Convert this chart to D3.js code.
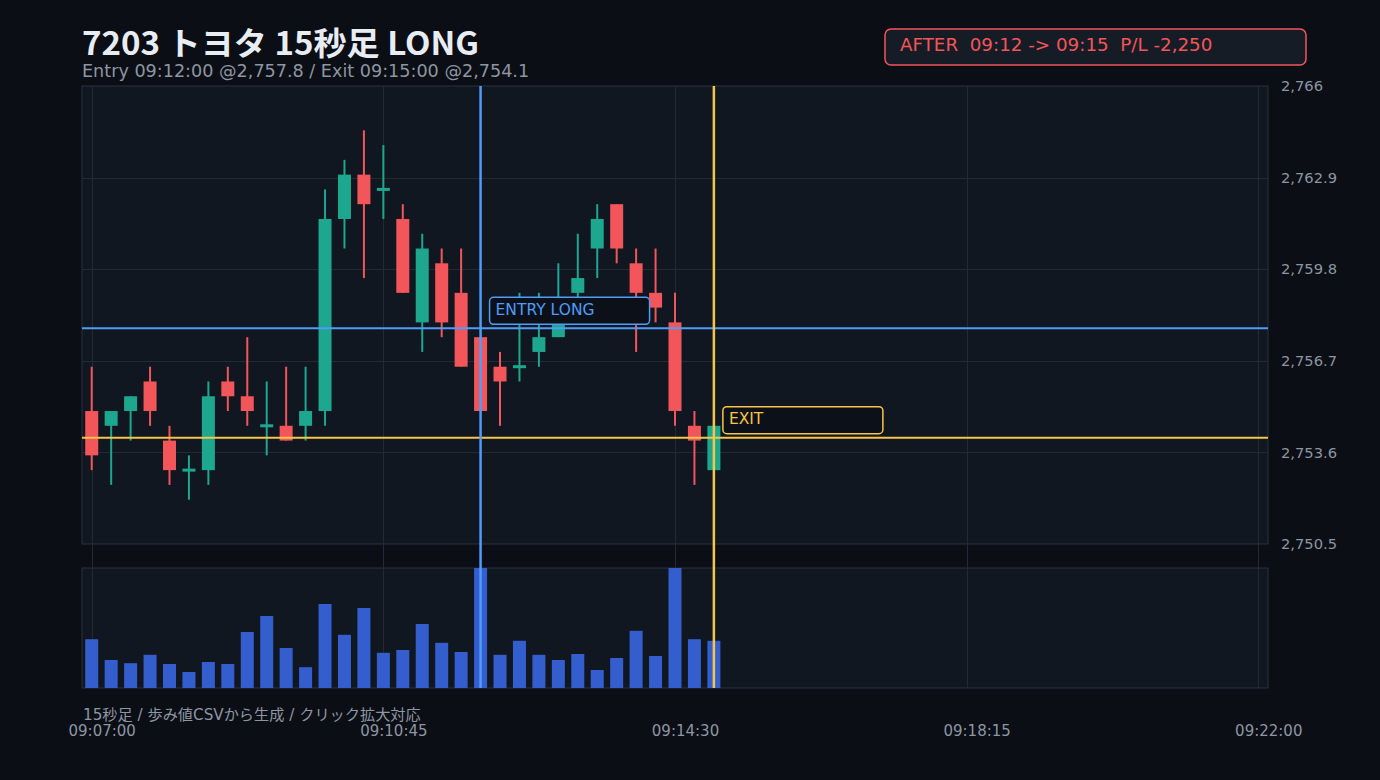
<!DOCTYPE html>
<html>
<head>
<meta charset="utf-8">
<script src="https://cdn.jsdelivr.net/npm/d3@7"></script>
<style>
  html, body { margin: 0; padding: 0; background: #0b0e14; }
  svg { display: block; font-family: "DejaVu Sans", "Noto Sans CJK JP", sans-serif; }
</style>
</head>
<body>
<div id="chart"></div>
<script>
// 15-second candles, 7203 Toyota
const times = ["09:07:00","09:07:15","09:07:30","09:07:45","09:08:00","09:08:15","09:08:30","09:08:45",
  "09:09:00","09:09:15","09:09:30","09:09:45","09:10:00","09:10:15","09:10:30","09:10:45",
  "09:11:00","09:11:15","09:11:30","09:11:45","09:12:00","09:12:15","09:12:30","09:12:45",
  "09:13:00","09:13:15","09:13:30","09:13:45","09:14:00","09:14:15","09:14:30","09:14:45","09:15:00"];
const opens  = [2755.0,2754.5,2755.0,2756.0,2754.0,2753.0,2753.0,2756.0,2755.5,2754.5,2754.5,2754.5,2755.0,2761.5,2763.0,2762.5,
  2761.5,2758.0,2760.0,2759.0,2757.5,2756.5,2756.5,2757.0,2757.5,2759.0,2760.5,2762.0,2760.0,2759.0,2758.0,2754.5,2753.0];
const highs  = [2756.5,2755.0,2755.5,2756.5,2754.5,2753.5,2756.0,2756.5,2757.5,2756.0,2756.5,2756.5,2762.5,2763.5,2764.5,2764.0,
  2762.0,2761.0,2760.5,2760.5,2757.5,2757.0,2759.0,2759.0,2760.0,2761.0,2762.0,2762.0,2760.5,2760.5,2759.0,2755.0,2754.5];
const lows   = [2753.0,2752.5,2754.0,2754.5,2752.5,2752.0,2752.5,2755.0,2754.5,2753.5,2754.0,2754.0,2754.5,2760.5,2759.5,2761.5,
  2759.0,2757.0,2757.5,2756.5,2755.0,2754.5,2756.0,2756.5,2757.5,2758.5,2759.5,2760.0,2757.0,2758.0,2754.5,2752.5,2753.0];
const closes = [2753.5,2755.0,2755.5,2755.0,2753.0,2753.0,2755.5,2755.5,2755.0,2754.5,2754.0,2755.0,2761.5,2763.0,2762.0,2762.5,
  2759.0,2760.5,2758.0,2756.5,2755.0,2756.0,2756.5,2757.5,2758.0,2759.5,2761.5,2760.5,2759.0,2758.5,2755.0,2754.0,2754.5];
const volumes = [12200,7000,6200,8300,6000,4000,6500,6000,14000,18000,10000,5200,21000,13300,20000,8800,
  9500,16000,11300,9000,30000,8300,11800,8300,7000,8500,4500,7500,14300,8000,30000,12200,11800];

const priceTicks = [2750.5, 2753.6, 2756.7, 2759.8, 2762.9, 2766];
const timeTicks = ["09:07:00","09:10:45","09:14:30","09:18:15","09:22:00"];
const timeStart = "09:06:52.5", timeEnd = "09:22:07.5";

const entry = {time: "09:12:00", price: 2757.8};
const exit  = {time: "09:15:00", price: 2754.1};

const titleText = "7203 トヨタ 15秒足 LONG";
const subText = "Entry 09:12:00 @2,757.8 / Exit 09:15:00 @2,754.1";
const resultText = "AFTER  09:12 -> 09:15  P/L -2,250";
const noteText = "15秒足 / 歩み値CSVから生成 / クリック拡大対応";

// colours
const UP = "#1da78f", DOWN = "#f2555a", VOL = "#345ece", BLUE = "#4f9cf9", YELLOW = "#f7c548";
const GRID = "#232a35", BORDER = "#2b3340", PANEL = "#111720", MUTED = "#8d96a3";

const width = 1380, height = 780;
const px = {left: 82, right: 1268, top: 86, bottom: 544};
const vp = {top: 568, bottom: 688};

const parseT = d3.timeParse("%H:%M:%S");
const parseTms = s => {
  const [h, m, sec] = s.split(":");
  return new Date(1900, 0, 1, +h, +m, Math.floor(+sec), Math.round((+sec % 1) * 1000));
};

const data = times.map((t, i) => ({
  t: parseT(t), o: opens[i], h: highs[i], l: lows[i], c: closes[i], v: volumes[i]
}));

const svg = d3.select("#chart").append("svg")
  .attr("width", width).attr("height", height);

svg.append("rect").attr("width", width).attr("height", height).attr("fill", "#0b0e14");

const x = d3.scaleTime()
  .domain([parseTms(timeStart), parseTms(timeEnd)])
  .range([px.left, px.right]);
const y = d3.scaleLinear()
  .domain([priceTicks[0], priceTicks[priceTicks.length - 1]])
  .range([px.bottom, px.top]);
const yv = d3.scaleLinear()
  .domain([0, d3.max(volumes)])
  .range([vp.bottom, vp.top]);

const bodyW = 13;

// panels
svg.append("rect").attr("x", px.left).attr("y", px.top)
  .attr("width", px.right - px.left).attr("height", px.bottom - px.top)
  .attr("fill", PANEL).attr("stroke", BORDER).attr("stroke-width", 1);
svg.append("rect").attr("x", px.left).attr("y", vp.top)
  .attr("width", px.right - px.left).attr("height", vp.bottom - vp.top)
  .attr("fill", PANEL).attr("stroke", BORDER).attr("stroke-width", 1);

// horizontal grid
svg.append("g").selectAll("line")
  .data(priceTicks.slice(1, -1))
  .join("line")
  .attr("x1", px.left).attr("x2", px.right)
  .attr("y1", d => Math.round(y(d)) + 0.5).attr("y2", d => Math.round(y(d)) + 0.5)
  .attr("stroke", GRID);

// vertical grid
svg.append("g").selectAll("line")
  .data(timeTicks.map(parseT))
  .join("line")
  .attr("x1", d => Math.round(x(d)) + 0.5).attr("x2", d => Math.round(x(d)) + 0.5)
  .attr("y1", px.top).attr("y2", vp.bottom)
  .attr("stroke", GRID);

// volume bars
svg.append("g").selectAll("rect")
  .data(data)
  .join("rect")
  .attr("x", d => x(d.t) - bodyW / 2)
  .attr("y", d => yv(d.v))
  .attr("width", bodyW)
  .attr("height", d => vp.bottom - yv(d.v))
  .attr("fill", VOL);

// candles
const candle = svg.append("g").selectAll("g")
  .data(data)
  .join("g")
  .attr("fill", d => d.c >= d.o ? UP : DOWN)
  .attr("stroke", d => d.c >= d.o ? UP : DOWN);

candle.append("line")
  .attr("x1", d => x(d.t)).attr("x2", d => x(d.t))
  .attr("y1", d => y(d.h)).attr("y2", d => y(d.l))
  .attr("stroke-width", 2);

candle.append("rect")
  .attr("stroke", "none")
  .attr("x", d => x(d.t) - bodyW / 2)
  .attr("width", bodyW)
  .attr("y", d => {
    const h = Math.abs(y(d.o) - y(d.c));
    return h < 3 ? y(d.o) - 1.5 : y(Math.max(d.o, d.c));
  })
  .attr("height", d => Math.max(3, Math.abs(y(d.o) - y(d.c))));

// entry / exit lines
const ex = x(parseT(entry.time)), xx = x(parseT(exit.time));
svg.append("line").attr("x1", px.left).attr("x2", px.right)
  .attr("y1", y(entry.price)).attr("y2", y(entry.price))
  .attr("stroke", BLUE).attr("stroke-width", 2);
svg.append("line").attr("x1", px.left).attr("x2", px.right)
  .attr("y1", y(exit.price)).attr("y2", y(exit.price))
  .attr("stroke", YELLOW).attr("stroke-width", 2);
svg.append("line").attr("x1", ex).attr("x2", ex)
  .attr("y1", px.top).attr("y2", vp.bottom)
  .attr("stroke", BLUE).attr("stroke-width", 2.5);
svg.append("line").attr("x1", xx).attr("x2", xx)
  .attr("y1", px.top).attr("y2", vp.bottom)
  .attr("stroke", YELLOW).attr("stroke-width", 2.5);

// tags
function tag(cx, cy, label, color) {
  const g = svg.append("g").attr("transform", `translate(${cx + 9}, ${cy - 31})`);
  g.append("rect").attr("width", 160).attr("height", 27).attr("rx", 4)
    .attr("fill", "#0c1119").attr("stroke", color).attr("stroke-width", 1.5);
  g.append("text").attr("x", 6).attr("y", 17.5)
    .attr("font-size", 15.5).attr("fill", color).text(label);
}
tag(ex, y(entry.price), "ENTRY LONG", BLUE);
tag(xx, y(exit.price), "EXIT", YELLOW);

// y axis
const yAxis = svg.append("g")
  .attr("transform", `translate(${px.right}, 0)`)
  .call(d3.axisRight(y).tickValues(priceTicks).tickSize(0).tickPadding(13)
    .tickFormat(d3.format(",")))
  .attr("font-family", null).attr("font-size", null);
yAxis.select(".domain").remove();
yAxis.selectAll("text").attr("font-size", 14.7).attr("fill", MUTED);

// x axis
const xAxis = svg.append("g")
  .attr("transform", `translate(10, 725)`)
  .call(d3.axisBottom(x).tickValues(timeTicks.map(parseT)).tickSize(0).tickPadding(0)
    .tickFormat(d3.timeFormat("%H:%M:%S")))
  .attr("font-family", null).attr("font-size", null);
xAxis.select(".domain").remove();
xAxis.selectAll("text").attr("font-size", 15).attr("fill", MUTED);

// titles
svg.append("text").attr("x", 82).attr("y", 55)
  .attr("font-family", "Noto Sans CJK JP, sans-serif")
  .attr("font-size", 32).attr("font-weight", 600).attr("fill", "#e8edf4")
  .attr("textLength", 397).attr("lengthAdjust", "spacingAndGlyphs")
  .text(titleText);
svg.append("text").attr("x", 82).attr("y", 77)
  .attr("font-size", 17.6).attr("fill", MUTED).text(subText);
svg.append("text").attr("x", 83).attr("y", 720)
  .attr("font-size", 15.2).attr("fill", MUTED).text(noteText);

// result box
svg.append("rect").attr("x", 885).attr("y", 29).attr("width", 421).attr("height", 36).attr("rx", 6)
  .attr("fill", "#161c25").attr("stroke", DOWN).attr("stroke-width", 1.5);
svg.append("text").attr("x", 900).attr("y", 51)
  .attr("font-size", 18.3).attr("fill", DOWN).style("white-space", "pre").text(resultText);
</script>
</body>
</html>
